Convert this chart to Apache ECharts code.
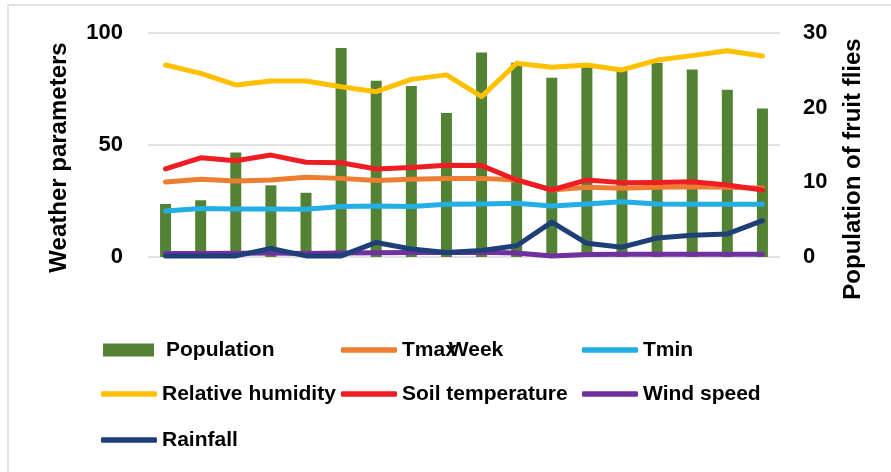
<!DOCTYPE html>
<html>
<head>
<meta charset="utf-8">
<script src="https://cdn.jsdelivr.net/npm/echarts@6/dist/echarts.min.js"></script>
<style>
html,body{margin:0;padding:0;background:#fff;}
#chart{width:891px;height:472px;}
</style>
</head>
<body>
<div id="chart"></div>
<script>
var weeks = ['1','2','3','4','5','6','7','8','9','10','11','12','13','14','15','16','17','18'];
var population = [7.1, 7.6, 14.0, 9.6, 8.6, 28.0, 23.6, 22.9, 19.3, 27.4, 26.0, 24.0, 25.5, 25.0, 26.0, 25.1, 22.4, 19.9];
var tmax = [33.5, 34.7, 33.9, 34.4, 35.6, 35.1, 34.2, 34.7, 35.1, 35.1, 34.4, 29.9, 31.1, 30.7, 31.1, 31.4, 31.1, 30.7];
var tmin = [20.5, 21.7, 21.4, 21.4, 21.3, 22.5, 22.8, 22.5, 23.5, 23.7, 24.0, 22.8, 23.7, 24.7, 23.7, 23.5, 23.5, 23.5];
var humidity = [85.7, 82.0, 76.8, 78.6, 78.6, 76.0, 73.8, 79.3, 81.3, 71.6, 86.5, 84.7, 85.7, 83.5, 87.9, 89.9, 92.1, 89.7];
var soilTemp = [39.3, 44.3, 43.0, 45.5, 42.3, 42.1, 39.3, 40.0, 41.0, 40.8, 34.4, 29.9, 34.4, 33.2, 33.3, 33.6, 32.1, 29.9];
var windSpeed = [1.6, 1.6, 1.7, 1.8, 1.6, 1.8, 1.9, 2.0, 2.0, 2.1, 1.8, 0.4, 1.1, 1.2, 1.2, 1.2, 1.2, 1.2];
var rainfall = [0.5, 0.5, 0.5, 3.8, 0.5, 0.5, 6.5, 3.6, 2.0, 2.9, 5.0, 15.6, 6.1, 4.4, 8.5, 9.7, 10.3, 16.2];

var FONT = "'Liberation Sans', Arial, sans-serif";
var colors = {
  Population: '#548235',
  Tmax: '#ED7D31',
  Tmin: '#23AEE5',
  'Relative humidity': '#FFC000',
  'Soil temperature': '#EE1D24',
  'Wind speed': '#7030A0',
  Rainfall: '#1F3F78'
};

function lineSeries(name, data) {
  return {
    name: name, type: 'line', yAxisIndex: 0, data: data,
    symbol: 'none', smooth: false,
    lineStyle: { width: 5, color: colors[name], cap: 'round', join: 'round' },
    itemStyle: { color: colors[name] },
    emphasis: { disabled: true }
  };
}

function legendAt(name, left, cy, isBar) {
  return {
    data: [name], left: left, top: cy - 10.5, padding: 0, selectedMode: false,
    icon: isBar ? 'rect' : 'roundRect',
    itemWidth: isBar ? 51 : 56, itemHeight: isBar ? 13 : 5.5,
    textStyle: { fontFamily: FONT, fontSize: 21, fontWeight: 'bold', color: '#000', padding: isBar ? [0,0,0,7] : 0 }
  };
}

var chart = echarts.init(document.getElementById('chart'));
chart.setOption({
  animation: false,
  backgroundColor: '#fff',
  graphic: [{
    type: 'rect', shape: { x: 8, y: 5, width: 900, height: 500 },
    style: { fill: 'none', stroke: '#d9d9d9', lineWidth: 1.5 }, silent: true
  }],
  grid: { left: 148, right: 111, top: 33, bottom: 215 },
  legend: [
    legendAt('Population', 103, 350, true),
    legendAt('Tmax', 341, 350, false),
    legendAt('Tmin', 582, 350, false),
    legendAt('Relative humidity', 101, 394, false),
    legendAt('Soil temperature', 341, 394, false),
    legendAt('Wind speed', 582, 394, false),
    legendAt('Rainfall', 101, 440, false)
  ],
  xAxis: {
    type: 'category', data: weeks, boundaryGap: true,
    name: 'Week', nameLocation: 'middle', nameGap: 83,
    nameTextStyle: { fontFamily: FONT, fontSize: 21, fontWeight: 'bold', color: '#000', padding: [0,0,0,24] },
    axisLine: { show: false }, axisTick: { show: false }, axisLabel: { show: false }
  },
  yAxis: [{
    type: 'value', min: 0, max: 100, interval: 50, position: 'left',
    name: 'Weather parameters', nameLocation: 'middle', nameGap: 77, nameRotate: 90,
    nameTextStyle: { fontFamily: FONT, fontSize: 24, fontWeight: 'bold', color: '#000', padding: [0,25,0,0] },
    axisLine: { show: false }, axisTick: { show: false },
    axisLabel: { fontFamily: FONT, fontSize: 22, fontWeight: 'bold', color: '#000', margin: 25 },
    splitLine: { show: true, lineStyle: { color: '#d9d9d9', width: 1.5 } }
  }, {
    type: 'value', min: 0, max: 30, interval: 10, position: 'right',
    name: 'Population of fruit flies', nameLocation: 'middle', nameGap: 61, nameRotate: 90,
    nameTextStyle: { fontFamily: FONT, fontSize: 24, fontWeight: 'bold', color: '#000', padding: [0,48,0,0] },
    axisLine: { show: false }, axisTick: { show: false },
    axisLabel: { fontFamily: FONT, fontSize: 22, fontWeight: 'bold', color: '#000', margin: 23 },
    splitLine: { show: false }
  }],
  series: [
    { name: 'Population', type: 'bar', yAxisIndex: 1, data: population, barWidth: 11,
      itemStyle: { color: colors.Population }, emphasis: { disabled: true } },
    lineSeries('Tmax', tmax),
    lineSeries('Tmin', tmin),
    lineSeries('Relative humidity', humidity),
    lineSeries('Soil temperature', soilTemp),
    lineSeries('Wind speed', windSpeed),
    lineSeries('Rainfall', rainfall)
  ]
});
</script>
</body>
</html>
